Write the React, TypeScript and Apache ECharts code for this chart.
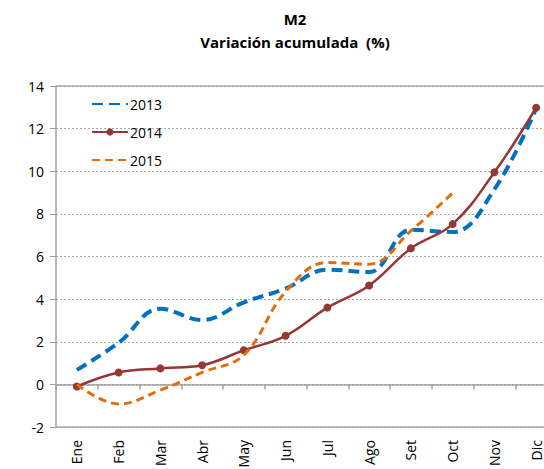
import React, { useEffect, useRef } from "react";
import * as echarts from "echarts";

const months = ["Ene", "Feb", "Mar", "Abr", "May", "Jun", "Jul", "Ago", "Set", "Oct", "Nov", "Dic"];
const s2013 = [0.68, 1.95, 3.55, 3.02, 3.85, 4.5, 5.38, 5.27, 7.25, 7.15, 9.15, 12.95];
const s2014 = [-0.1, 0.56, 0.75, 0.9, 1.6, 2.28, 3.6, 4.64, 6.38, 7.52, 9.95, 12.98];
const s2015 = [0.0, -0.92, -0.27, 0.56, 1.38, 4.35, 5.72, 5.64, 7.2, 8.98];
const yTicks = { min: -2, max: 14, interval: 2 };

const FONT = "Open Sans";

export default function App() {
  const ref = useRef<HTMLDivElement>(null);
  useEffect(() => {
    if (!ref.current) return;
    const chart = echarts.init(ref.current, null, { renderer: "svg" });
    chart.setOption({
      animation: false,
      backgroundColor: "#ffffff",
      title: [
        {
          text: "M2",
          left: 290,
          textAlign: "center",
          top: 6,
          textStyle: { fontFamily: FONT, fontSize: 15, fontWeight: "bold", color: "#000" },
        },
        {
          text: "Variación acumulada  (%)",
          left: 290,
          textAlign: "center",
          top: 29,
          textStyle: { fontFamily: FONT, fontSize: 15, fontWeight: "bold", color: "#000" },
        },
      ],
      legend: {
        orient: "vertical",
        left: 86,
        top: 92,
        itemWidth: 36,
        itemHeight: 9,
        itemGap: 14,
        textStyle: { fontFamily: FONT, fontSize: 14, color: "#000", padding: [0, 0, 0, -3] },
        data: [
          { name: "2013", itemStyle: { opacity: 0 } },
          { name: "2014" },
          { name: "2015", itemStyle: { opacity: 0 } },
        ],
      },
      grid: { left: 56, top: 86, bottom: 42, right: -13, outerBoundsMode: "none", containLabel: false },
      xAxis: {
        type: "category",
        data: months,
        boundaryGap: true,
        axisLine: { onZero: true, lineStyle: { color: "#A0A0A0", width: 1.5 } },
        axisTick: { show: true, length: 5, inside: false, lineStyle: { color: "#A0A0A0", width: 1.5 } },
        axisLabel: {
          rotate: 90,
          margin: 13,
          fontFamily: FONT,
          fontSize: 14,
          color: "#000",
        },
        splitLine: { show: false },
      },
      yAxis: {
        type: "value",
        min: yTicks.min,
        max: yTicks.max,
        interval: yTicks.interval,
        axisLine: { show: true, lineStyle: { color: "#A0A0A0", width: 1.5 } },
        axisTick: { show: true, length: 6, lineStyle: { color: "#A0A0A0", width: 1 } },
        axisLabel: { margin: 12, fontFamily: FONT, fontSize: 14, color: "#000" },
        splitLine: { show: true, lineStyle: { color: "#A6A6A6", type: [2, 2], width: 1 } },
      },
      series: [
        {
          name: "2013",
          type: "line",
          data: s2013,
          smooth: 0.4,
          symbol: "none",
          lineStyle: { color: "#0070C0", width: 4, type: [11, 6] },
          itemStyle: { color: "#0070C0" },
          z: 3,
        },
        {
          name: "2014",
          type: "line",
          data: s2014,
          smooth: 0.4,
          symbol: "circle",
          symbolSize: 8,
          lineStyle: { color: "#953735", width: 2.5 },
          itemStyle: { color: "#953735" },
          z: 4,
          markLine: {
            silent: true,
            symbol: ["none", "none"],
            label: { show: false },
            lineStyle: { color: "#A6A6A6", type: "solid", width: 1.5 },
            data: [{ yAxis: -2 }, { yAxis: 14 }],
          },
        },
        {
          name: "2015",
          type: "line",
          data: s2015,
          smooth: 0.4,
          symbol: "none",
          lineStyle: { color: "#E46C0A", width: 3, type: [8, 5] },
          itemStyle: { color: "#E46C0A" },
          z: 5,
        },
      ],
    });
    return () => chart.dispose();
  }, []);
  return (
    <div
      ref={ref}
      style={{ position: "absolute", left: 0, top: 0, width: 544, height: 469 }}
    />
  );
}
